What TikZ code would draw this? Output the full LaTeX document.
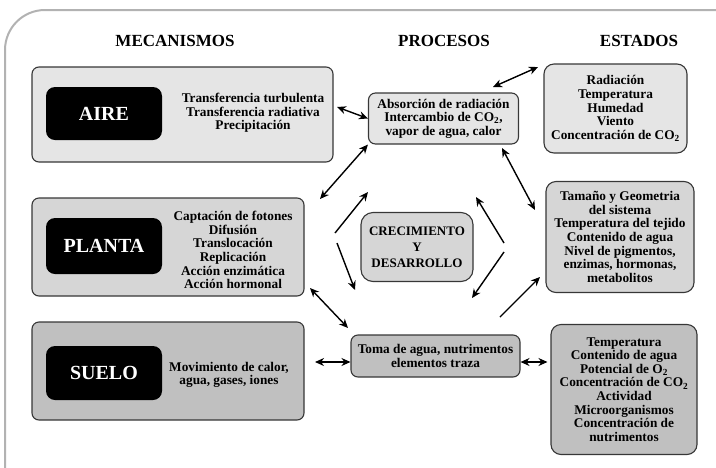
\documentclass[tikz,border=0pt]{standalone}
\usepackage{fontspec}
\setmainfont{Liberation Serif}
\usetikzlibrary{arrows.meta}
\definecolor{framegray}{RGB}{178,178,178}
\definecolor{edgegray}{RGB}{55,55,55}
\definecolor{airegray}{RGB}{229,229,229}
\definecolor{plantagray}{RGB}{214,214,214}
\definecolor{suelogray}{RGB}{192,192,192}

\tikzset{
  box/.style={draw=edgegray, line width=1.1pt, rounded corners=7pt, inner sep=0pt, align=center,
    font=\fontsize{13.3}{13.6}\selectfont\bfseries},
  tag/.style={fill=black, rounded corners=9pt, inner sep=0pt, minimum width=116pt, text=white,
    font=\fontsize{20}{22}\selectfont\bfseries},
  txt/.style={align=center, inner sep=0pt, font=\fontsize{13.3}{13.6}\selectfont\bfseries},
  head/.style={font=\fontsize{17}{20}\selectfont\bfseries},
  link/.style={line width=1.4pt, -{Stealth[length=9pt,width=8pt]}},
  dlink/.style={line width=1.4pt, {Stealth[length=9pt,width=8pt]}-{Stealth[length=9pt,width=8pt]}}
}

\begin{document}
\begin{tikzpicture}[x=1pt,y=-1pt]
\useasboundingbox (0,0) rectangle (716,467);

% frame round everything
\draw[framegray, line width=2pt, rounded corners=40pt] (5,490) -- (5,10) -- (740,10);

% column heads
\node[head] (hmec) at (175,41) {MECANISMOS};
\node[head] (hproc) at (444,41) {PROCESOS};
\node[head] (hest) at (639,41) {ESTADOS};

% mecanismos
\node[box, fill=airegray, minimum width=301pt, minimum height=95pt] (aire) at (182.5,114.5) {};
\node[tag, minimum height=53pt] (airetag) at (104,113.5) {AIRE};
\node[txt] (airetxt) at (253,113) {Transferencia turbulenta\\Transferencia radiativa\\Precipitación};

\node[box, fill=plantagray, minimum width=272pt, minimum height=98pt] (planta) at (168,247) {};
\node[tag, minimum height=56pt] (plantatag) at (104,246) {PLANTA};
\node[txt] (plantatxt) at (233,250) {Captación de fotones\\Difusión\\Translocación\\Replicación\\Acción enzimática\\Acción hormonal};

\node[box, fill=suelogray, minimum width=272pt, minimum height=98pt] (suelo) at (168,371) {};
\node[tag, minimum height=54pt] (suelotag) at (104,373) {SUELO};
\node[txt] (suelotxt) at (229,375) {Movimiento de calor,\\agua, gases, iones};

% procesos
\node[box, fill=airegray, minimum width=150pt, minimum height=51pt] (absor) at (443.5,118.5)
  {Absorción de radiación\\Intercambio de CO\textsubscript{2},\\vapor de agua, calor};
\node[box, fill=plantagray, minimum width=112pt, minimum height=69pt, rounded corners=12pt,
  font=\fontsize{13}{16}\selectfont\bfseries] (crec) at (417,247) {CRECIMIENTO\\Y\\DESARROLLO};
\node[box, fill=suelogray, minimum width=169pt, minimum height=42pt] (toma) at (435.5,356)
  {Toma de agua, nutrimentos\\elementos traza};

% estados
\node[box, fill=airegray, minimum width=143pt, minimum height=89pt, rounded corners=10pt] (estaire) at (615.5,108.5)
  {Radiación\\Temperatura\\Humedad\\Viento\\Concentración de CO\textsubscript{2}};
\node[box, fill=plantagray, minimum width=148pt, minimum height=111pt, rounded corners=10pt] (estplanta) at (620,237)
  {Tamaño y Geometria\\del sistema\\Temperatura del tejido\\Contenido de agua\\Nivel de pigmentos,\\enzimas, hormonas,\\metabolitos};
\node[box, fill=suelogray, minimum width=146pt, minimum height=130pt, rounded corners=10pt] (estsuelo) at (624,389.5)
  {Temperatura\\Contenido de agua\\Potencial de O\textsubscript{2}\\Concentración de CO\textsubscript{2}\\Actividad\\Microorganismos\\Concentración de\\nutrimentos};

% free ends of the arrows
\coordinate (a1) at (337,107);
\coordinate (a2s) at (493,87);
\coordinate (a2e) at (538,67);
\coordinate (a3) at (320,199);
\coordinate (a4s) at (502,148);
\coordinate (a4e) at (535,210);
\coordinate (c1s) at (335,233);
\coordinate (c1e) at (368,192);
\coordinate (c2s) at (337,243);
\coordinate (c2e) at (355,290);
\coordinate (c3s) at (504,243);
\coordinate (c3e) at (476,197);
\coordinate (c4s) at (504,252);
\coordinate (c4e) at (472,298);
\coordinate (a9s) at (310,288);
\coordinate (a9e) at (348,328);
\coordinate (a10s) at (500,317);
\coordinate (a10e) at (540,277);
\coordinate (a11) at (315,362);

% arrows
\draw[dlink] (a1) -- (absor.west);
\draw[dlink] (a2s) -- (a2e);
\draw[dlink] (a3) -- (absor.south west);
\draw[dlink] (a4s) -- (a4e);
\draw[link] (c1s) -- (c1e);
\draw[link] (c2s) -- (c2e);
\draw[link] (c3s) -- (c3e);
\draw[link] (c4s) -- (c4e);
\draw[dlink] (a9s) -- (a9e);
\draw[link] (a10s) -- (a10e);
\draw[dlink] (a11) -- ([yshift=-6pt]toma.west);
\draw[dlink] ([yshift=-6pt]toma.east) -- ([yshift=-6pt,xshift=-3pt]estsuelo.west |- toma.east);
\end{tikzpicture}
\end{document}
